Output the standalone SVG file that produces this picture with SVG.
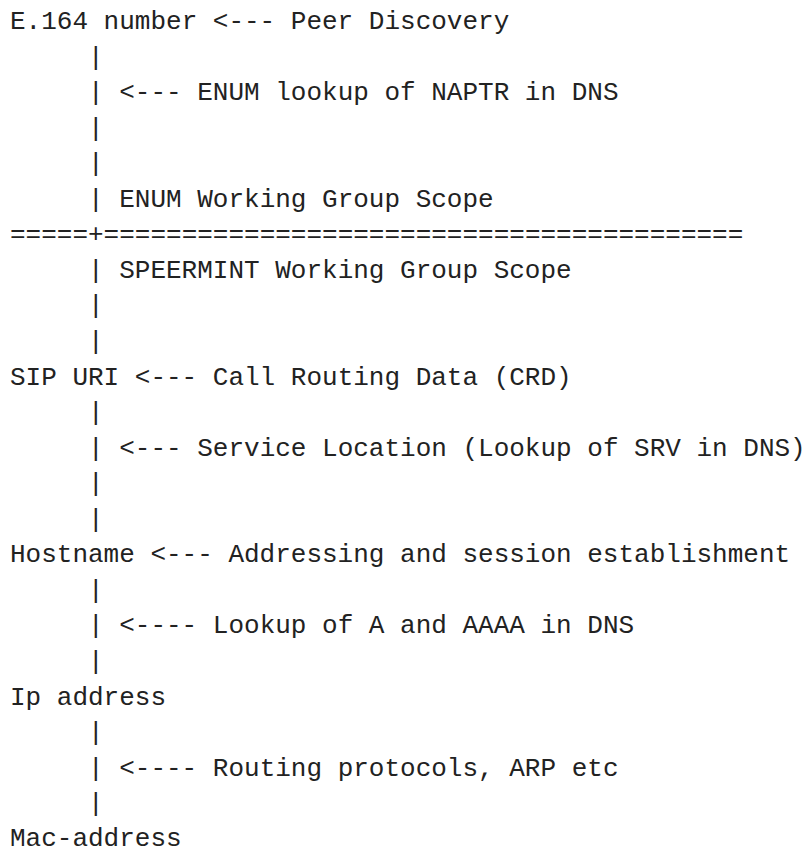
<svg xmlns="http://www.w3.org/2000/svg" width="804" height="850" viewBox="0 0 804 850">
<style>
text{font-family:"Liberation Mono","DejaVu Sans Mono",monospace;font-size:26px;fill:#222;white-space:pre}
</style>
<rect width="804" height="850" fill="#fff"/>
<g id="node-e164"><text x="10" y="29">E.164 number</text></g>
<g id="node-sipuri"><text x="10" y="384.5">SIP URI</text></g>
<g id="node-hostname"><text x="10" y="562.3">Hostname</text></g>
<g id="node-ipaddress"><text x="10" y="704.5">Ip address</text></g>
<g id="node-macaddress"><text x="10" y="846.2">Mac-address</text></g>
<g id="labels">
<text x="212.8" y="29">&lt;--- Peer Discovery</text>
<text x="134.8" y="384.5">&lt;--- Call Routing Data (CRD)</text>
<text x="150.4" y="562.3">&lt;--- Addressing and session establishment</text>
</g>
<g id="scope">
<text x="88" y="206.6">| ENUM Working Group Scope</text>
<text x="10" y="242.1">=====+=========================================</text>
<text x="88" y="277.6">| SPEERMINT Working Group Scope</text>
</g>
<g id="connectors">
<text x="88" y="64.5">|</text>
<text x="88" y="100">| &lt;--- ENUM lookup of NAPTR in DNS</text>
<text x="88" y="135.6">|</text>
<text x="88" y="171.1">|</text>
<text x="88" y="313.2">|</text>
<text x="88" y="348.8">|</text>
<text x="88" y="420">|</text>
<text x="88" y="455.6">| &lt;--- Service Location (Lookup of SRV in DNS)</text>
<text x="88" y="491.2">|</text>
<text x="88" y="526.7">|</text>
<text x="88" y="597.8">|</text>
<text x="88" y="633.4">| &lt;---- Lookup of A and AAAA in DNS</text>
<text x="88" y="669">|</text>
<text x="88" y="740">|</text>
<text x="88" y="775.6">| &lt;---- Routing protocols, ARP etc</text>
<text x="88" y="811.1">|</text>
</g>
</svg>
